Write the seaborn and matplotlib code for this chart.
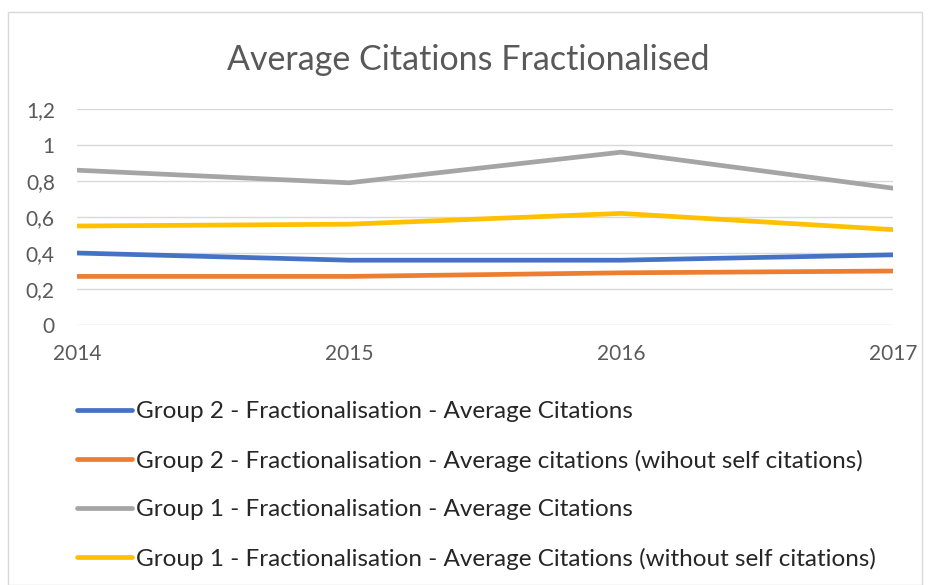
import matplotlib
matplotlib.use("Agg")
import matplotlib.pyplot as plt
from matplotlib.patches import Rectangle
import pandas as pd
import seaborn as sns

years = [2014, 2015, 2016, 2017]
series_names = [
    "Group 2 - Fractionalisation - Average Citations",
    "Group 2 - Fractionalisation - Average citations (wihout self citations)",
    "Group 1 - Fractionalisation - Average Citations",
    "Group 1 - Fractionalisation - Average Citations (without self citations)",
]
g2_avg = [0.40, 0.36, 0.36, 0.39]
g2_noself = [0.27, 0.27, 0.29, 0.30]
g1_avg = [0.86, 0.79, 0.96, 0.76]
g1_noself = [0.55, 0.56, 0.62, 0.53]
colors = ["#4472C4", "#ED7D31", "#A5A5A5", "#FFC000"]

rows = []
for name, vals in zip(series_names, [g2_avg, g2_noself, g1_avg, g1_noself]):
    for y, v in zip(years, vals):
        rows.append({"year": y, "value": v, "series": name})
df = pd.DataFrame(rows)

sns.set_theme(style="white")
plt.rcParams["font.family"] = ["Lato", "DejaVu Sans"]

fig = plt.figure(figsize=(9.36, 5.85), dpi=100)
ax = fig.add_axes([0.0823, 0.4444, 0.8718, 0.3693])

sns.lineplot(data=df, x="year", y="value", hue="series", hue_order=series_names,
             palette=colors, linewidth=3.4, ax=ax, legend=True)

ax.set_xlim(2014, 2017)
ax.set_ylim(0, 1.2)
ax.set_yticks([0, 0.2, 0.4, 0.6, 0.8, 1.0, 1.2])
ax.set_yticklabels(["0", "0,2", "0,4", "0,6", "0,8", "1", "1,2"])
ax.set_xticks(years)
ax.set_xticklabels([str(y) for y in years])
ax.yaxis.grid(True, color="#D9D9D9", linewidth=1.0)
ax.set_axisbelow(True)
for s in ax.spines.values():
    s.set_visible(False)
ax.tick_params(axis="both", length=0, labelsize=15, labelcolor="#595959")
ax.tick_params(axis="x", pad=14)
ax.tick_params(axis="y", pad=16)
ax.set_xlabel("")
ax.set_ylabel("")

handles, labels = ax.get_legend_handles_labels()
ax.legend(handles, labels, loc="upper left", bbox_to_anchor=(0.0823, 0.3145),
          bbox_transform=fig.transFigure, frameon=False, fontsize=17.5,
          handlelength=2.26, handletextpad=0.17, labelspacing=1.13,
          borderpad=0, borderaxespad=0)

fig.text(0.5, 0.898, "Average Citations Fractionalised", ha="center", va="center",
         fontsize=24.5, color="#595959")

fig.patches.append(Rectangle((0.009, 0.0), 0.976, 0.979, transform=fig.transFigure,
                             fill=False, edgecolor="#D9D9D9", linewidth=1.0))

fig.savefig("out.png", dpi=100)
